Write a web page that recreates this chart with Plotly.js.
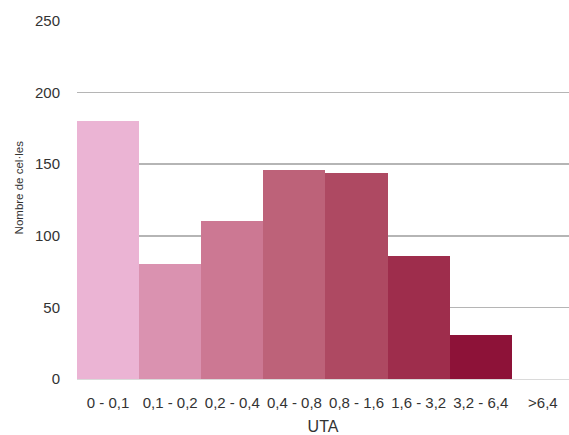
<!DOCTYPE html>
<html>
<head>
<meta charset="utf-8">
<script src="https://cdn.plot.ly/plotly-3.0.1.min.js"></script>
<style>html,body{margin:0;padding:0;background:#fff;}#chart{width:569px;height:435px;}</style>
</head>
<body>
<div id="chart"></div>
<script>
const categories = ["0 - 0,1", "0,1 - 0,2", "0,2 - 0,4", "0,4 - 0,8", "0,8 - 1,6", "1,6 - 3,2", "3,2 - 6,4", ">6,4"];
const values = [180, 80, 110, 146, 144, 86, 31, 0];
const barColors = ["#ebb4d4", "#da92b0", "#cc7893", "#bd6279", "#ae4962", "#9e2d4c", "#8d1238", "#8d1238"];
const yTicks = [0, 50, 100, 150, 200, 250];
const yTitle = "Nombre de cel·les";
const xTitle = "UTA";

const trace = {
  type: "bar",
  x: categories,
  y: values,
  marker: { color: barColors, line: { width: 0 } },
  hoverinfo: "x+y"
};

const fam = "Liberation Sans, Arial, sans-serif";
const txt = "#333333";

const layout = {
  width: 569,
  height: 435,
  margin: { l: 77, r: 0, t: 21, b: 56, pad: 0 },
  paper_bgcolor: "#ffffff",
  plot_bgcolor: "#ffffff",
  showlegend: false,
  bargap: 0,
  font: { family: fam, size: 15, color: txt },
  xaxis: {
    type: "category",
    range: [-0.5, 7.42],
    showgrid: false,
    zeroline: false,
    showline: false,
    ticks: "",
    tickangle: 0,
    ticklabelstandoff: 13,
    tickfont: { family: fam, size: 15, color: txt },
    title: { text: xTitle, font: { family: fam, size: 16, color: txt }, standoff: 10 }
  },
  yaxis: {
    range: [0, 250],
    tickvals: yTicks,
    ticktext: yTicks.map(String),
    showgrid: true,
    gridcolor: "#b5b5b5",
    gridwidth: 1.5,
    zeroline: true,
    zerolinecolor: "#dadada",
    zerolinewidth: 1,
    showline: false,
    ticks: "",
    ticklabelstandoff: 16,
    tickfont: { family: fam, size: 15, color: txt }
  },
  annotations: [{
    text: yTitle,
    textangle: -90,
    xref: "paper", yref: "paper",
    x: -0.116, y: 0.535,
    xanchor: "center", yanchor: "middle",
    showarrow: false,
    font: { family: fam, size: 11.5, color: txt }
  }]
};

Plotly.newPlot("chart", [trace], layout, { displayModeBar: false, staticPlot: true });
</script>
</body>
</html>
